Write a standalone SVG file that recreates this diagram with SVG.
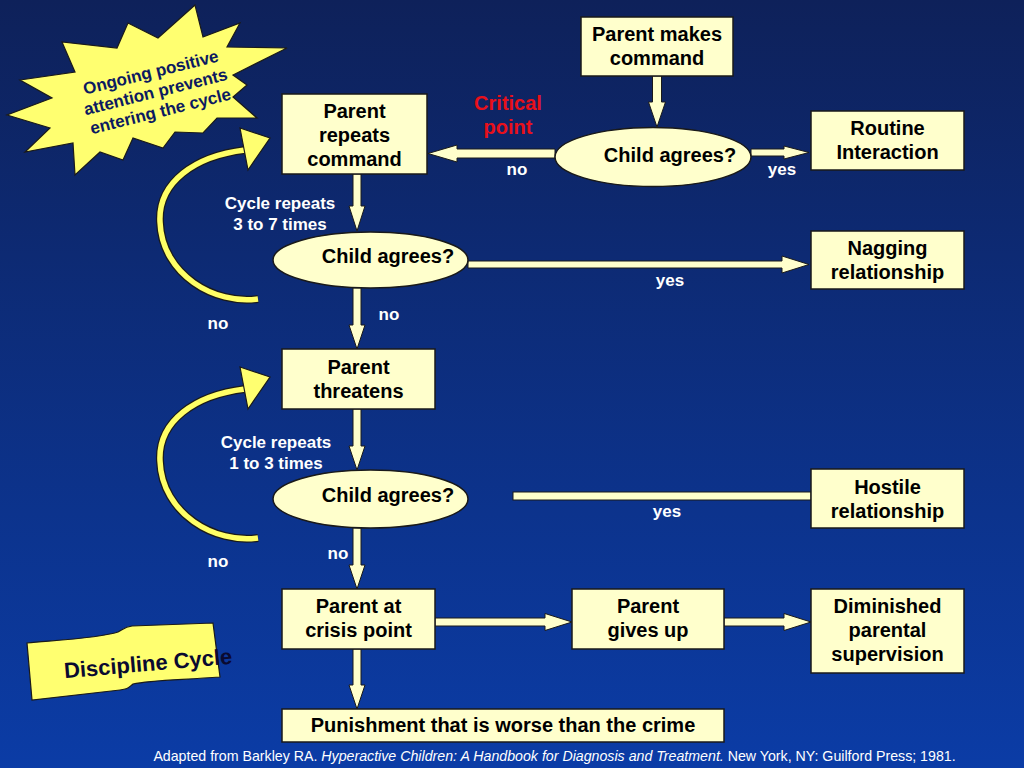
<svg xmlns="http://www.w3.org/2000/svg" width="1024" height="768" viewBox="0 0 1024 768">
<defs>
<linearGradient id="bg" x1="0" y1="0" x2="0" y2="1">
<stop offset="0" stop-color="#0e215a"/>
<stop offset="1" stop-color="#0b3ca6"/>
</linearGradient>
<style>
.box{fill:#ffffcc;stroke:#1a1a1a;stroke-width:1.5}
.arr{fill:#ffffcc;stroke:#1a1a1a;stroke-width:1}
.t{font-family:"Liberation Sans",Arial,sans-serif;font-weight:bold;font-size:20px;fill:#000;text-anchor:middle}
.lb{font-family:"Liberation Sans",Arial,sans-serif;font-weight:bold;font-size:17px;fill:#fff;text-anchor:middle}
.red{fill:#e8101a}
.yl{fill:#ffff70;stroke:#1a1a1a;stroke-width:1.2}
.curveo{fill:none;stroke:#1a1a1a;stroke-width:8;stroke-linecap:butt}
.curvei{fill:none;stroke:#ffff66;stroke-width:5.5;stroke-linecap:butt}
</style>
</defs>
<rect x="0" y="0" width="1024" height="768" fill="url(#bg)"/>

<g id="starburst">
<polygon class="yl" points="195,5 158,38 128,23 117,48 62,42 75,72 20,80 52,98 7,115 50,128 25,152 73,143 75,175 100,152 123,160 133,138 163,148 175,132 203,133 217,118 257,118 233,97 247,85 233,75 287,48 227,47 240,23 203,37"/>
<g transform="rotate(-14 158 93)">
<text class="t" x="156" y="77" style="font-size:17px;fill:#0c1a60">Ongoing positive</text>
<text class="t" x="156" y="97" style="font-size:17px;fill:#0c1a60">attention prevents</text>
<text class="t" x="156" y="117" style="font-size:17px;fill:#0c1a60">entering the cycle</text>
</g>
</g>

<g id="banner">
<path class="yl" d="M27,643 C60,640 100,638 118,632 C125,628 125,627 132,626 L213,623 L220,677 C180,680 150,680 133,684 C128,688 128,689 120,690 L32,700 Z"/>
<text class="t" x="148" y="671" transform="rotate(-5 148 663)" style="font-size:22px;fill:#0a0a30">Discipline Cycle</text>
</g>

<g id="connectors">
<polygon class="arr" points="652.5,76 661.5,76 661.5,102 665.5,102 657,127 648.5,102 652.5,102"/>
<polygon class="arr" points="555,149 457,149 457,145 428,153.5 457,162 457,158 555,158"/>
<polygon class="arr" points="751,149 784,149 784,146 809,152.5 784,159 784,156 751,156"/>
<polygon class="arr" points="353,174 361,174 361,206 365,206 357,231 349,206 353,206"/>
<polygon class="arr" points="468,261 782,261 782,256 809,264.5 782,273 782,268 468,268"/>
<polygon class="arr" points="353,288 361,288 361,325 365,325 357,349 349,325 353,325"/>
<polygon class="arr" points="353,409 361,409 361,446 365,446 357,470 349,446 353,446"/>
<rect class="arr" x="513" y="492" width="298" height="8"/>
<polygon class="arr" points="353,528 361,528 361,565 365,565 357,589 349,565 353,565"/>
<polygon class="arr" points="435,618 545,618 545,613.5 572,622 545,630.5 545,626 435,626"/>
<polygon class="arr" points="724,618 784,618 784,613.5 811,622 784,630.5 784,626 724,626"/>
<polygon class="arr" points="353,649 361,649 361,685 365,685 357,709 349,685 353,685"/>
<path class="curveo" d="M258,299 C215,305 162,275 160,222 C158,182 195,156 245,150"/>
<path class="curvei" d="M258,299 C215,305 162,275 160,222 C158,182 195,156 245,150"/>
<polygon class="yl" points="240,128 270,138 248,170"/>
<path class="curveo" d="M258,538 C215,544 162,514 160,461 C158,421 195,395 245,389"/>
<path class="curvei" d="M258,538 C215,544 162,514 160,461 C158,421 195,395 245,389"/>
<polygon class="yl" points="240,367 270,377 248,409"/>
</g>

<g id="labels">
<text class="t red" x="508" y="110">Critical</text>
<text class="t red" x="508" y="134">point</text>
<text class="lb" x="517" y="175">no</text>
<text class="lb" x="782" y="175">yes</text>
<text class="lb" x="280" y="209">Cycle repeats</text>
<text class="lb" x="280" y="230">3 to 7 times</text>
<text class="lb" x="670" y="286">yes</text>
<text class="lb" x="389" y="320">no</text>
<text class="lb" x="218" y="329">no</text>
<text class="lb" x="276" y="448">Cycle repeats</text>
<text class="lb" x="276" y="469">1 to 3 times</text>
<text class="lb" x="667" y="517">yes</text>
<text class="lb" x="338" y="559">no</text>
<text class="lb" x="218" y="567">no</text>
</g>

<g id="n-makes-command">
<rect class="box" x="581" y="17" width="152" height="59"/>
<text class="t" x="657" y="41">Parent makes</text>
<text class="t" x="657" y="65">command</text>
</g>
<g id="n-repeats">
<rect class="box" x="282" y="94" width="145" height="80"/>
<text class="t" x="354.5" y="118">Parent</text>
<text class="t" x="354.5" y="142">repeats</text>
<text class="t" x="354.5" y="166">command</text>
</g>
<g id="n-agrees1">
<ellipse class="box" cx="653" cy="157" rx="98" ry="29.5"/>
<text class="t" x="670" y="162">Child agrees?</text>
</g>
<g id="n-routine">
<rect class="box" x="811" y="111" width="153" height="59"/>
<text class="t" x="887.5" y="135">Routine</text>
<text class="t" x="887.5" y="159">Interaction</text>
</g>
<g id="n-agrees2">
<ellipse class="box" cx="370.5" cy="260" rx="97.5" ry="28"/>
<text class="t" x="388" y="263">Child agrees?</text>
</g>
<g id="n-nagging">
<rect class="box" x="811" y="231" width="153" height="58"/>
<text class="t" x="887.5" y="255">Nagging</text>
<text class="t" x="887.5" y="279">relationship</text>
</g>
<g id="n-threatens">
<rect class="box" x="282" y="349" width="153" height="60"/>
<text class="t" x="358.5" y="374">Parent</text>
<text class="t" x="358.5" y="398">threatens</text>
</g>
<g id="n-agrees3">
<ellipse class="box" cx="370.5" cy="499" rx="97.5" ry="29"/>
<text class="t" x="388" y="502">Child agrees?</text>
</g>
<g id="n-hostile">
<rect class="box" x="811" y="469" width="153" height="59"/>
<text class="t" x="887.5" y="494">Hostile</text>
<text class="t" x="887.5" y="518">relationship</text>
</g>
<g id="n-crisis">
<rect class="box" x="282" y="589" width="153" height="60"/>
<text class="t" x="358.5" y="613">Parent at</text>
<text class="t" x="358.5" y="637">crisis point</text>
</g>
<g id="n-gives-up">
<rect class="box" x="572" y="589" width="152" height="60"/>
<text class="t" x="648" y="613">Parent</text>
<text class="t" x="648" y="637">gives up</text>
</g>
<g id="n-diminished">
<rect class="box" x="811" y="589" width="153" height="84"/>
<text class="t" x="887.5" y="613">Diminished</text>
<text class="t" x="887.5" y="637">parental</text>
<text class="t" x="887.5" y="661">supervision</text>
</g>
<g id="n-punishment">
<rect class="box" x="282" y="709" width="442" height="33"/>
<text class="t" x="503" y="732">Punishment that is worse than the crime</text>
</g>

<text x="554.5" y="761" style="font-family:'Liberation Sans',Arial,sans-serif;font-size:14.2px;fill:#fff;text-anchor:middle">Adapted from Barkley RA. <tspan font-style="italic">Hyperactive Children: A Handbook for Diagnosis and Treatment.</tspan> New York, NY: Guilford Press; 1981.</text>
</svg>
